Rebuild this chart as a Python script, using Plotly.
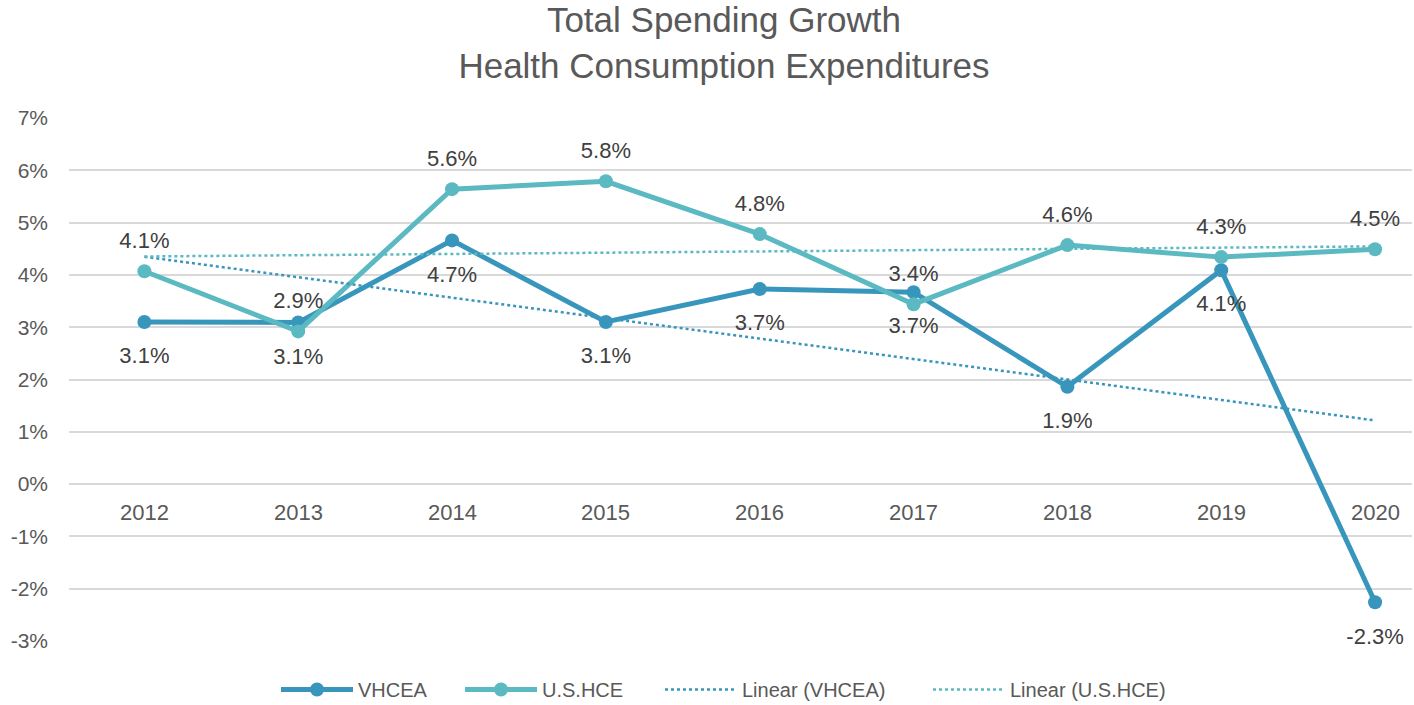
import numpy as np
import plotly.graph_objects as go

# data (percent)
years = ["2012", "2013", "2014", "2015", "2016", "2017", "2018", "2019", "2020"]
vhcea = [3.10, 3.09, 4.66, 3.10, 3.73, 3.67, 1.86, 4.09, -2.26]
us_hce = [4.07, 2.92, 5.64, 5.79, 4.78, 3.44, 4.57, 4.34, 4.49]
y_ticks = [-3, -2, -1, 0, 1, 2, 3, 4, 5, 6, 7]
y_tick_text = ["-3%", "-2%", "-1%", "0%", "1%", "2%", "3%", "4%", "5%", "6%", "7%"]

C_VH = "#3896bd"
C_US = "#5bb9c2"
FONT = "Liberation Sans, Arial, sans-serif"

# linear trend lines (least squares, like Excel "Linear")
idx = np.arange(len(years))
vh_fit = np.polyval(np.polyfit(idx, vhcea, 1), idx)
us_fit = np.polyval(np.polyfit(idx, us_hce, 1), idx)

fig = go.Figure()

fig.add_trace(go.Scatter(
    x=years, y=vhcea, name="VHCEA", mode="lines+markers", legend="legend",
    line=dict(color=C_VH, width=5), marker=dict(size=14, color=C_VH),
))
fig.add_trace(go.Scatter(
    x=years, y=us_hce, name="U.S.HCE", mode="lines+markers", legend="legend2",
    line=dict(color=C_US, width=5), marker=dict(size=14, color=C_US),
))
fig.add_trace(go.Scatter(
    x=years, y=vh_fit, name="Linear (VHCEA)", mode="lines", legend="legend3",
    line=dict(color=C_VH, width=2.5, dash="dot"),
))
fig.add_trace(go.Scatter(
    x=years, y=us_fit, name="Linear (U.S.HCE)", mode="lines", legend="legend4",
    line=dict(color=C_US, width=2.5, dash="dot"),
))

# data labels: invisible big markers push the text away from the points
for vals, pos, sz in [(vhcea, "bottom center", 38), (us_hce, "top center", 27)]:
    fig.add_trace(go.Scatter(
        x=years, y=vals, mode="markers+text", showlegend=False, hoverinfo="skip",
        marker=dict(size=sz, color="rgba(0,0,0,0)"), cliponaxis=False,
        texttemplate="%{y:.1f}%", textposition=pos,
        textfont=dict(size=22, color="#404040", family=FONT),
    ))

# category labels sit just under the zero line, like Excel
for i, yr in enumerate(years):
    fig.add_annotation(x=i, y=0, xref="x", yref="y", text=yr, showarrow=False,
                       yanchor="top", yshift=-14,
                       font=dict(size=22, color="#595959", family=FONT))

leg = dict(orientation="h", xref="container", yref="container", xanchor="left",
           yanchor="middle", y=0.022, itemwidth=72, bgcolor="rgba(0,0,0,0)",
           font=dict(size=20, color="#595959", family=FONT))

fig.update_layout(
    width=1414, height=705,
    paper_bgcolor="white", plot_bgcolor="white",
    font=dict(family=FONT, color="#595959"),
    title=dict(text="Total Spending Growth<br>Health Consumption Expenditures",
               x=0.512, xanchor="center", y=0.954, yanchor="middle",
               font=dict(size=35, color="#595959", family=FONT)),
    margin=dict(l=69, r=2, t=118, b=64),
    showlegend=True,
    legend=dict(leg, x=276 / 1414),
    legend2=dict(leg, x=460 / 1414),
    legend3=dict(leg, x=660 / 1414),
    legend4=dict(leg, x=928 / 1414),
    xaxis=dict(type="category", showticklabels=False, showgrid=False,
               zeroline=False, range=[-0.49, 8.24]),
    yaxis=dict(range=[-3, 7], tickmode="array", tickvals=y_ticks,
               ticktext=y_tick_text, showgrid=True, gridcolor="#d9d9d9",
               gridwidth=1.5, zeroline=False, ticklabelstandoff=20,
               tickfont=dict(size=21, color="#595959", family=FONT)),
)

fig.write_html("out.html", config={"displayModeBar": False},
               post_script="document.body.style.margin='0';")
